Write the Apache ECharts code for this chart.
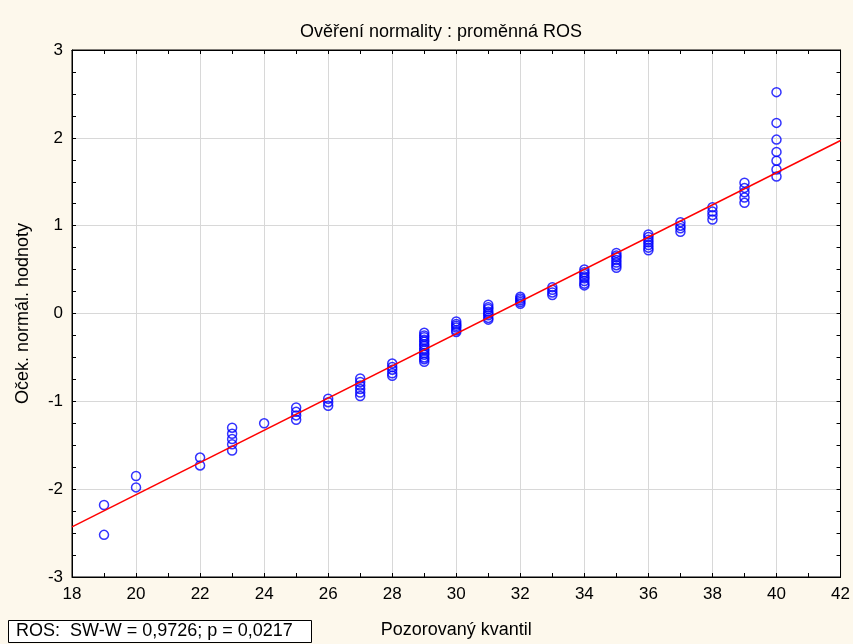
<!DOCTYPE html>
<html>
<head>
<meta charset="utf-8">
<title>Ověření normality : proměnná ROS</title>
<script src="https://cdn.jsdelivr.net/npm/echarts@6/dist/echarts.min.js"></script>
<style>
    html, body { margin: 0; padding: 0; background: #FDF8EC; }
    #main { width: 853px; height: 644px; }
</style>
</head>
<body>
<div id="main"></div>
<script>
// pozorované hodnoty (osa x) a očekávané normální skóre pro každou hodnotu
var kvantily = [19, 20, 22, 23, 24, 25, 26, 27, 28, 29, 30, 31, 32, 33, 34, 35, 36, 37, 38, 39, 40];
var skore = [
    [-2.52, -2.18],
    [-1.98, -1.85],
    [-1.73, -1.64],
    [-1.56, -1.49, -1.43, -1.37, -1.30],
    [-1.25],
    [-1.21, -1.16, -1.12, -1.07],
    [-1.05, -1.01, -0.97],
    [-0.94, -0.90, -0.86, -0.82, -0.78, -0.74],
    [-0.71, -0.68, -0.64, -0.61, -0.57],
    [-0.55, -0.52, -0.50, -0.47, -0.45, -0.42, -0.40, -0.37, -0.35, -0.32, -0.30, -0.27, -0.25, -0.22],
    [-0.21, -0.19, -0.16, -0.14, -0.12, -0.09],
    [-0.07, -0.05, -0.02, 0.00, 0.02, 0.05, 0.07, 0.10],
    [0.11, 0.13, 0.15, 0.17, 0.19],
    [0.21, 0.24, 0.27, 0.30],
    [0.32, 0.34, 0.37, 0.40, 0.42, 0.45, 0.47, 0.50],
    [0.52, 0.55, 0.58, 0.61, 0.64, 0.66, 0.69],
    [0.72, 0.75, 0.78, 0.81, 0.84, 0.87, 0.90],
    [0.93, 0.97, 1.00, 1.04],
    [1.07, 1.12, 1.16, 1.21],
    [1.26, 1.32, 1.38, 1.43, 1.49],
    [1.56, 1.64, 1.74, 1.84, 1.98, 2.17, 2.52]
];
// koncové body proložené přímky
var primka = [[18, -2.43], [42, 1.97]];
var statText = 'ROS:  SW-W = 0,9726; p = 0,0217';

var body = [];
for (var i = 0; i < kvantily.length; i++) {
    for (var j = 0; j < skore[i].length; j++) {
        body.push([kvantily[i], skore[i][j]]);
    }
}

var font = 'Liberation Sans, Arial, sans-serif';
var myChart = echarts.init(document.getElementById('main'));

function osaX(pos, labels) {
    return {
        type: 'value', position: pos, min: 18, max: 42, interval: 2,
        axisLine: { show: true, onZero: false, lineStyle: { color: '#000', width: 1 } },
        axisTick: { show: true, inside: true, length: 4, lineStyle: { color: '#000' } },
        minorTick: { show: true, splitNumber: 2, length: 4, lineStyle: { color: '#000' } },
        splitLine: { show: labels, lineStyle: { color: '#D8D8D8', width: 1 } },
        axisLabel: { show: labels, fontSize: 17, color: '#000', fontFamily: font, margin: 9 },
        name: labels ? 'Pozorovaný kvantil' : '',
        nameLocation: 'middle', nameGap: 44,
        nameTextStyle: { fontSize: 18, color: '#000', fontFamily: font }
    };
}

function osaY(pos, labels) {
    return {
        type: 'value', position: pos, min: -3, max: 3, interval: 1,
        axisLine: { show: true, onZero: false, lineStyle: { color: '#000', width: 1 } },
        axisTick: { show: true, inside: true, length: 4, lineStyle: { color: '#000' } },
        minorTick: { show: true, splitNumber: 4, length: 4, lineStyle: { color: '#000' } },
        splitLine: { show: labels, lineStyle: { color: '#D8D8D8', width: 1 } },
        axisLabel: { show: labels, fontSize: 17, color: '#000', fontFamily: font, margin: 9 },
        name: labels ? 'Oček. normál. hodnoty' : '',
        nameLocation: 'middle', nameGap: 40,
        nameTextStyle: { fontSize: 18, color: '#000', fontFamily: font }
    };
}

var option = {
    backgroundColor: '#FDF8EC',
    animation: false,
    title: {
        text: 'Ověření normality : proměnná ROS',
        left: 436, top: 18, textAlign: 'center',
        textStyle: { fontSize: 18, fontWeight: 'normal', color: '#000', fontFamily: font }
    },
    grid: {
        left: 72, right: 9, top: 50, bottom: 65,
        show: true, backgroundColor: '#FFFFFF', borderColor: '#000', borderWidth: 1
    },
    xAxis: [osaX('bottom', true), osaX('top', false)],
    yAxis: [osaY('left', true), osaY('right', false)],
    series: [
        {
            type: 'line',
            data: primka,
            showSymbol: false,
            lineStyle: { color: '#FF0000', width: 1.5 },
            z: 3
        },
        {
            type: 'scatter',
            data: body,
            symbol: 'circle',
            symbolSize: 9,
            itemStyle: { color: 'rgba(0,0,0,0)', borderColor: '#0000FF', borderWidth: 1.5 },
            z: 2
        }
    ],
    graphic: [
        {
            type: 'rect',
            left: 8, top: 620,
            shape: { width: 303, height: 22 },
            style: { fill: '#FFFFFF', stroke: '#000', lineWidth: 1 }
        },
        {
            type: 'text',
            left: 16, top: 622,
            style: { text: statText, fontSize: 18, fill: '#000', fontFamily: font }
        }
    ]
};

myChart.setOption(option, true);
</script>
</body>
</html>
